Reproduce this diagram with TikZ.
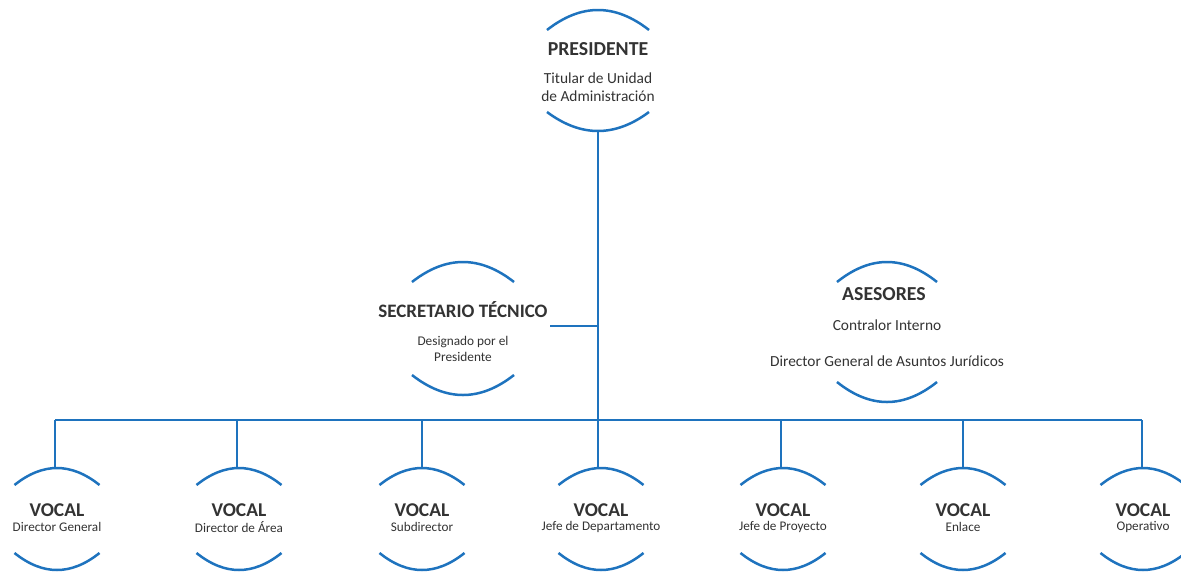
\documentclass[tikz,border=0pt]{standalone}
\usepackage{fontspec}
\setmainfont{Carlito}
\definecolor{orgblue}{RGB}{30,115,190}
\definecolor{orgtext}{RGB}{51,51,51}
\newcommand\orgarcs[6]{%
 \draw[arcline] ({#1-#2},#4) .. controls ({#1-#2/3},{#4-4*(#4-#3)/3}) and ({#1+#2/3},{#4-4*(#4-#3)/3}) .. ({#1+#2},#4);
 \draw[arcline] ({#1-#2},#5) .. controls ({#1-#2/3},{#5+4*(#6-#5)/3}) and ({#1+#2/3},{#5+4*(#6-#5)/3}) .. ({#1+#2},#5);
}
\begin{document}
\begin{tikzpicture}[x=1pt,y=-1pt,
  arcline/.style={draw=orgblue,line width=2.5pt},
  link/.style={draw=orgblue,line width=2.8pt},
  title/.style={text=orgtext,font=\fontsize{19.8}{22}\selectfont\bfseries,inner sep=0pt,anchor=center},
  sub/.style={text=orgtext,font=\fontsize{15.4}{18}\selectfont,inner sep=0pt,anchor=center,align=center},
  vtitle/.style={text=orgtext,font=\fontsize{19.5}{22}\selectfont\bfseries,inner sep=0pt,anchor=center},
  vsub/.style={text=orgtext,font=\fontsize{13.2}{15}\selectfont,inner sep=0pt,anchor=center}]
\useasboundingbox (0,0) rectangle (1181,571);
\begin{scope}
\clip (0,0) rectangle (1181,571);
% Presidente
\orgarcs{598}{51}{10}{30}{112}{131}
\node[title] (presT) at (598,49) {PRESIDENTE};
\node[sub] (presS) at (598,87) {Titular de Unidad\\de Administración};
\coordinate (presB) at (598,131);
% Secretario
\orgarcs{463}{51}{262}{282}{375}{395}
\node[title,font=\fontsize{19}{22}\selectfont\bfseries] (secT) at (463,310) {SECRETARIO TÉCNICO};
\node[sub,font=\fontsize{13.3}{16}\selectfont] (secS) at (463,349) {Designado por el\\Presidente};
\coordinate (secR) at (550,326);
% Asesores
\orgarcs{887}{50}{262}{282}{382}{402}
\node[title] (aseT) at (884,294) {ASESORES};
\node[sub] (aseS1) at (887,325) {Contralor Interno};
\node[sub] (aseS2) at (887,361) {Director General de Asuntos Jurídicos};
% trunk
\coordinate (trunkS) at (598,326);
\coordinate (trunkB) at (598,420);
\draw[link] (presB) -- (trunkS) -- (trunkB);
\draw[link] (secR) -- (trunkS);
% vocales
\coordinate (barL) at (55,420);
\coordinate (barR) at (1142,420);
\draw[link] (barL) -- (barR);
\foreach \x/\c/\n/\s in {55/57/v1/Director General,237/239/v2/Director de Área,422/422/v3/Subdirector,598/601/v4/Jefe de Departamento,781/783/v5/Jefe de Proyecto,963/963/v6/Enlace,1142/1143/v7/Operativo}{
  \orgarcs{\c}{42.5}{468}{485}{553}{570}
  \node[vtitle] (\n T) at (\c,510) {VOCAL};
  \node[vsub] (\n S) at (\c,527) {\s};
  \coordinate (\n top) at (\x,468);
  \coordinate (\n bar) at (\x,420);
  \draw[link] (\n bar) -- (\n top);
}
\end{scope}
\end{tikzpicture}
\end{document}
